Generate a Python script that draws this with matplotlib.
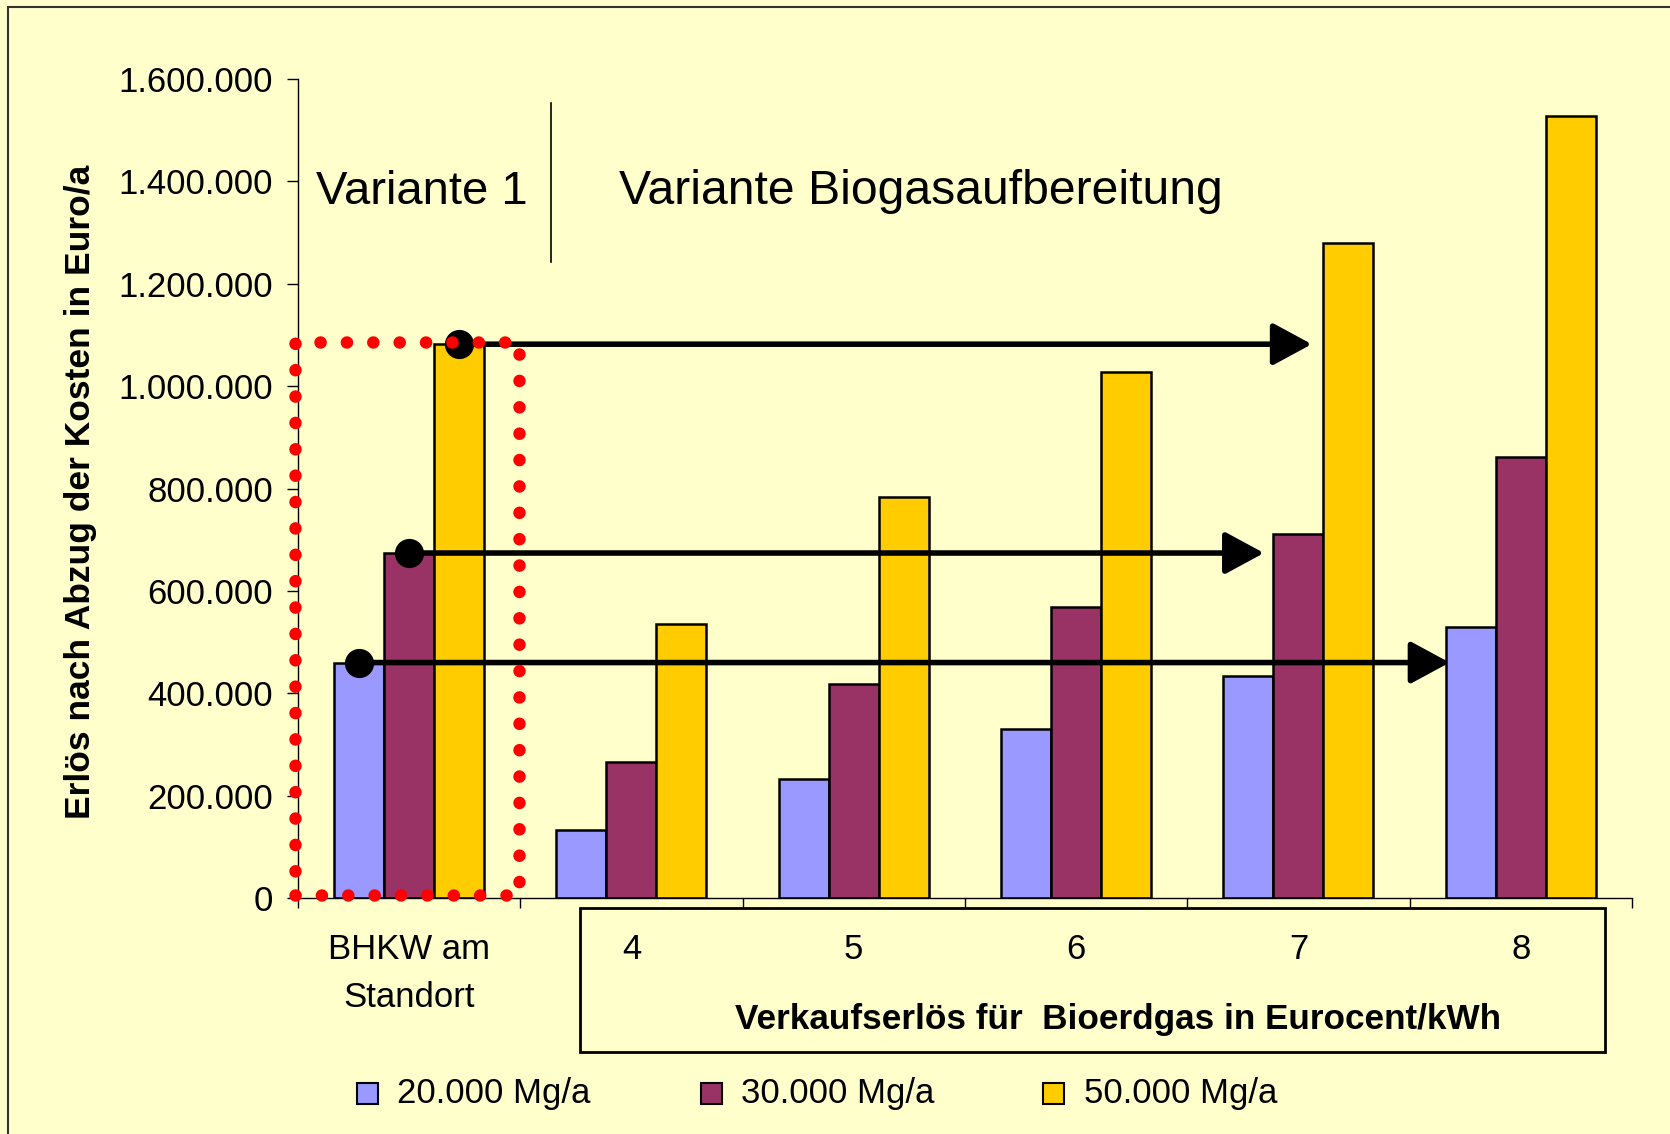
import matplotlib
matplotlib.use("Agg")
import matplotlib.pyplot as plt
from matplotlib.patches import Rectangle
from matplotlib.transforms import blended_transform_factory
import numpy as np

plt.rcParams['font.family'] = ['Liberation Sans', 'DejaVu Sans']

categories = ["BHKW am\nStandort", "4", "5", "6", "7", "8"]
series_names = ["20.000 Mg/a", "30.000 Mg/a", "50.000 Mg/a"]
v20 = [460000, 133000, 233000, 331000, 433000, 529000]
v30 = [674000, 266000, 418000, 568000, 712000, 862000]
v50 = [1082000, 535000, 783000, 1028000, 1280000, 1528000]
yticks = [0, 200000, 400000, 600000, 800000, 1000000, 1200000, 1400000, 1600000]
ytick_labels = ["0", "200.000", "400.000", "600.000", "800.000", "1.000.000",
                "1.200.000", "1.400.000", "1.600.000"]
ylabel = "Erlös nach Abzug der Kosten in Euro/a"
xlabel = "Verkaufserlös für  Bioerdgas in Eurocent/kWh"
arrow_ends = [4.68, 3.845, 4.06]

colors = ["#9999FF", "#993366", "#FFCC00"]
bg = "#FFFFCC"

fig = plt.figure(figsize=(16.7, 11.34), dpi=100, facecolor=bg)
ax = fig.add_axes([0.1784, 0.2081, 0.9772 - 0.1784, 0.9303 - 0.2081])
ax.set_facecolor(bg)

x = np.arange(len(categories))
w = 0.225
series = [v20, v30, v50]
for k, vals in enumerate(series):
    ax.bar(x + (k - 1) * w, vals, width=w, color=colors[k], edgecolor="black",
           linewidth=1.8, zorder=2)

ax.set_xlim(-0.5, 5.5)
ax.set_ylim(0, 1600000)
ax.set_yticks(yticks)
ax.set_yticklabels(ytick_labels, fontsize=25)
ax.set_xticks(np.arange(-0.5, 6.0, 1.0))
ax.set_xticklabels([])
ax.tick_params(axis='y', length=8, width=1, pad=10, direction='out')
ax.tick_params(axis='x', length=7, width=1, direction='out')
for s in ['top', 'right']:
    ax.spines[s].set_visible(False)
for s in ['left', 'bottom']:
    ax.spines[s].set_linewidth(1)

fig.text(0.048, 0.566, ylabel, rotation=90, fontsize=25.5, fontweight='bold',
         ha='center', va='center')

trans = blended_transform_factory(ax.transData, ax.transAxes)
ax.text(0, -0.092, categories[0], transform=trans, ha='center', va='center',
        fontsize=25, linespacing=1.6)
for i in range(1, len(categories)):
    ax.text(i, -0.063, categories[i], transform=trans, ha='center', va='center',
            fontsize=25)
ax.text(3.19, -0.148, xlabel, transform=trans, ha='center', va='center',
        fontsize=25.3, fontweight='bold')
box = Rectangle((0.769, -0.188), 5.378 - 0.769, 0.176, transform=trans,
                fill=False, edgecolor='black', linewidth=2, clip_on=False)
ax.add_patch(box)

# Annotations
ax.text(-0.42, 1380000, "Variante 1", fontsize=34, ha='left', va='center')
ax.text(0.946, 1380000, "Variante Biogasaufbereitung", fontsize=34.7, ha='left', va='center')
ax.plot([0.64, 0.64], [1242000, 1553000], color='black', lw=1.2)

starts_x = [-w, 0, w]
starts_y = [v20[0], v30[0], v50[0]]
for sx, sy, ex in zip(starts_x, starts_y, arrow_ends):
    ax.annotate('', xy=(ex, sy), xytext=(sx, sy),
                arrowprops=dict(arrowstyle='-|>,head_length=1.2,head_width=0.65',
                                lw=4, color='black', mutation_scale=20,
                                shrinkA=0, shrinkB=0), zorder=4)
    ax.plot(sx, sy, 'o', color='black', markersize=20, zorder=5)

red = Rectangle((-0.515, 5000), 0.496 + 0.515, 1086000 - 5000, fill=False,
                edgecolor='#FF0000', linewidth=9, linestyle=(0, (0.01, 2.1)),
                capstyle='round', zorder=6, clip_on=False)
ax.add_patch(red)

# legend
leg_x = [0.220, 0.426, 0.631]
leg_y = 0.036
sq = 21 / 1670
sqh = 21 / 1134
for k in range(3):
    fig.patches.append(Rectangle((leg_x[k] - sq / 2, leg_y - sqh / 2), sq, sqh,
                                 transform=fig.transFigure, facecolor=colors[k],
                                 edgecolor='black', linewidth=1.5))
    fig.text(leg_x[k] + 0.018, leg_y, series_names[k], fontsize=25,
             ha='left', va='center')

# outer border
fig.patches.append(Rectangle((0.005, -0.1), 1.2, 1.094, transform=fig.transFigure,
                             fill=False, edgecolor='#333333', linewidth=1.5))

fig.savefig("out.png", dpi=100, facecolor=bg)
